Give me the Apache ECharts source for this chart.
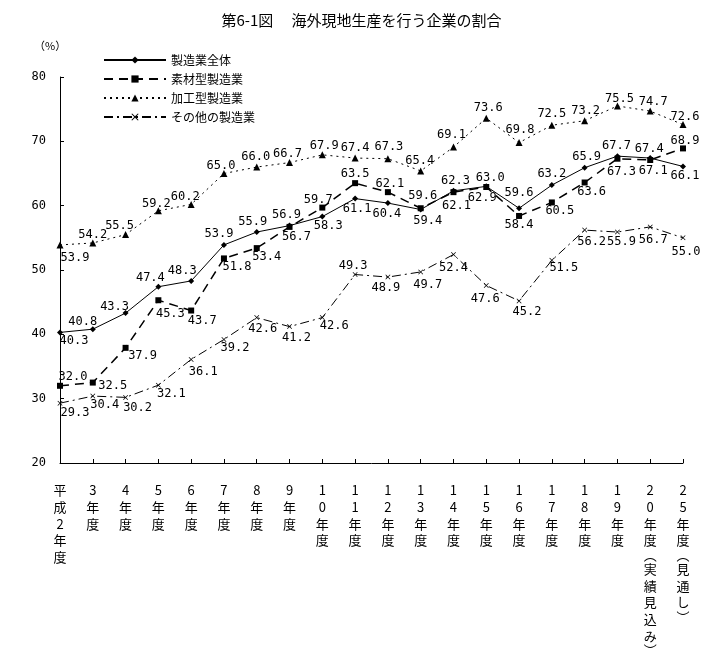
<!DOCTYPE html>
<html>
<head>
<meta charset="utf-8">
<script src="https://cdn.jsdelivr.net/npm/echarts@6/dist/echarts.min.js"></script>
<style>
  html, body { margin: 0; padding: 0; background: #fff; }
  #chart { width: 723px; height: 659px; }
</style>
</head>
<body>
<div id="chart"></div>
<script>
// ---- data ----
const categories = ['平成2年度','3年度','4年度','5年度','6年度','7年度','8年度','9年度','10年度','11年度','12年度','13年度','14年度','15年度','16年度','17年度','18年度','19年度','20年度（実績見込み）','25年度（見通し）'];
const seriesNames = ['製造業全体','素材型製造業','加工型製造業','その他の製造業'];
const allMfg     = [40.3,40.8,43.3,47.4,48.3,53.9,55.9,56.9,58.3,61.1,60.4,59.4,62.3,63.0,59.6,63.2,65.9,67.7,67.4,66.1];
const materialMfg= [32.0,32.5,37.9,45.3,43.7,51.8,53.4,56.7,59.7,63.5,62.1,59.6,62.1,62.9,58.4,60.5,63.6,67.3,67.1,68.9];
const processMfg = [53.9,54.2,55.5,59.2,60.2,65.0,66.0,66.7,67.9,67.4,67.3,65.4,69.1,73.6,69.8,72.5,73.2,75.5,74.7,72.6];
const otherMfg   = [29.3,30.4,30.2,32.1,36.1,39.2,42.6,41.2,42.6,49.3,48.9,49.7,52.4,47.6,45.2,51.5,56.2,55.9,56.7,55.0];
const yMin = 20, yMax = 80, yStep = 10;

// ---- layout: label offsets (px) relative to each point ----
const offAll = [[14,8],[-10,-7],[-11,-6],[-8,-9],[-9,-10],[-5,-11],[-4,-10],[-3,-11],[6,9],[2,10],[-1,11],[7,11],[2,-10],[4,-8],[0,-15],[0,-11],[2,-11],[-1,-10],[-1,-9],[2,9]];
const offMat = [[13,-9],[20,3],[17,8],[12,14],[11,10],[13,8],[10,9],[7,10],[-4,-8],[0,-9],[2,-8],[2,-12],[3,14],[-4,11],[0,9],[8,8],[7,9],[4,13],[3,11],[2,-8]];
const offProc= [[15,13],[0,-8],[-6,-9],[-2,-7],[-6,-8],[-3,-8],[-1,-10],[-2,-9],[2,-9],[0,-10],[1,-12],[-1,-10],[-2,-12],[2,-10],[1,-13],[0,-11],[1,-10],[2,-7],[3,-9],[2,-8]];
const offOth = [[15,10],[12,9],[12,10],[13,9],[12,12],[11,8],[6,11],[7,11],[12,8],[-2,-9],[-2,11],[7,13],[0,13],[-1,13],[8,11],[12,8],[7,12],[4,10],[3,13],[3,14]];

const numFont = 'DejaVu Sans Mono';
const cjkFont = 'Noto Sans CJK JP';
const X_MARK = 'path://M0,1 L1,0 L5,4 L9,0 L10,1 L6,5 L10,9 L9,10 L5,6 L1,10 L0,9 L4,5 Z';

function mkData(vals, offs) {
  return vals.map((v, i) => ({ value: v, label: { offset: offs[i] } }));
}
function mkSeries(name, vals, offs, symbol, size, lineType, width) {
  return {
    name: name, type: 'line', data: mkData(vals, offs),
    symbol: symbol, symbolSize: size,
    itemStyle: { color: '#000' },
    lineStyle: { color: '#000', width: width, type: lineType },
    label: { show: true, position: 'inside', color: '#000', fontFamily: numFont, fontSize: 12,
             formatter: p => p.value.toFixed(1) },
    emphasis: { disabled: true },
    silent: true
  };
}

function xLabel(val) {
  const chars = Array.from(val.replace('（','︵').replace('）','︶'));
  return chars.map(c => (c === '︵' || c === '︶') ? '{p|' + c + '}' : '{c|' + c + '}').join('\n');
}

const chart = echarts.init(document.getElementById('chart'), null, { renderer: 'canvas' });
chart.setOption({
  animation: false,
  backgroundColor: '#fff',
  title: {
    text: '第6-1図　 海外現地生産を行う企業の割合',
    left: 'center', top: 8,
    textStyle: { fontFamily: cjkFont, fontSize: 15, fontWeight: 'normal', color: '#000' }
  },
  graphic: [{
    type: 'text', left: 34, top: 40,
    style: { text: '（%）', fontFamily: cjkFont, fontSize: 11, fill: '#000' }
  }],
  legend: {
    orient: 'vertical', left: 98, top: 49,
    itemWidth: 62, itemHeight: 9, itemGap: 7,
    textStyle: { fontFamily: cjkFont, fontSize: 12, color: '#000' },
    data: seriesNames
  },
  grid: { left: 60, right: 40, top: 77, bottom: 196 },
  xAxis: {
    type: 'category', data: categories, boundaryGap: false,
    axisLine: { lineStyle: { color: '#000', width: 1 } },
    axisTick: { inside: true, length: 4, lineStyle: { color: '#000' } },
    axisLabel: {
      interval: 0, margin: 19, verticalAlign: 'top',
      formatter: xLabel,
      rich: {
        c: { fontFamily: cjkFont, fontSize: 13, lineHeight: 16.7, color: '#000' },
        p: { fontFamily: cjkFont, fontSize: 13, lineHeight: 12, color: '#000' }
      }
    }
  },
  yAxis: {
    type: 'value', min: yMin, max: yMax, interval: yStep,
    axisLine: { show: true, lineStyle: { color: '#000', width: 1 } },
    axisTick: { show: true, inside: true, length: 4, lineStyle: { color: '#000' } },
    splitLine: { show: false },
    axisLabel: { margin: 14, fontFamily: numFont, fontSize: 12, color: '#000' }
  },
  series: [
    mkSeries(seriesNames[0], allMfg, offAll, 'diamond', 6, 'solid', 1),
    mkSeries(seriesNames[1], materialMfg, offMat, 'rect', 6, [9, 6], 1.5),
    mkSeries(seriesNames[2], processMfg, offProc, 'triangle', 7, [2, 4], 1),
    mkSeries(seriesNames[3], otherMfg, offOth, X_MARK, 5, [9, 4, 2, 4], 1)
  ]
});
</script>
</body>
</html>
